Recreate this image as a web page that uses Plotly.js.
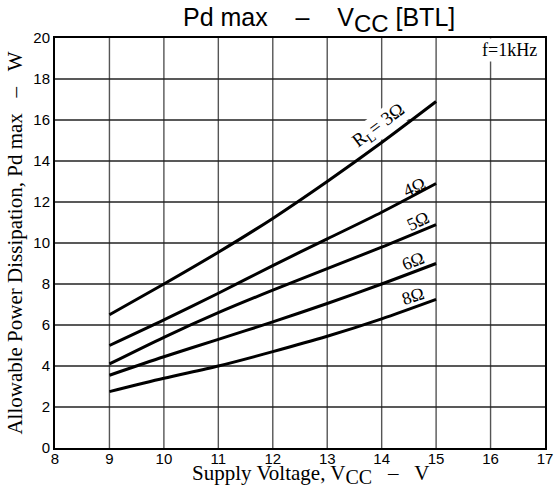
<!DOCTYPE html>
<html><head><meta charset="utf-8">
<script src="https://cdn.plot.ly/plotly-3.0.1.min.js"></script>
<style>html,body{margin:0;padding:0;background:#fff}</style>
</head><body>
<div id="chart" style="width:554px;height:488px"></div>
<script>
var vcc = [9, 10, 11, 12, 13, 14, 15];
var pd3 = [6.5, 8.0, 9.55, 11.2, 13.0, 14.9, 16.9];
var pd4 = [5.0, 6.25, 7.55, 8.9, 10.2, 11.5, 12.9];
var pd5 = [4.1, 5.4, 6.6, 7.7, 8.75, 9.8, 10.9];
var pd6 = [3.55, 4.45, 5.3, 6.15, 7.05, 8.0, 9.0];
var pd8 = [2.75, 3.4, 4.0, 4.7, 5.45, 6.3, 7.25];
var seriesNames = ["3Ω", "4Ω", "5Ω", "6Ω", "8Ω"];
var xTicks = [8, 9, 10, 11, 12, 13, 14, 15, 16, 17];
var yTicks = [0, 2, 4, 6, 8, 10, 12, 14, 16, 18, 20];

var xMin = xTicks[0], xMax = xTicks[xTicks.length - 1];
var yMin = yTicks[0], yMax = yTicks[yTicks.length - 1];

// grid lines built from the tick arrays, drawn as plain line traces
var vgx = [], vgy = [], hgx = [], hgy = [];
xTicks.slice(1, -1).forEach(function (v) { vgx.push(v, v, null); vgy.push(yMin, yMax, null); });
yTicks.slice(1, -1).forEach(function (v) { hgx.push(xMin, xMax, null); hgy.push(v, v, null); });

var traces = [
  {x: vgx, y: vgy, type: 'scatter', mode: 'lines', line: {color: '#555', width: 1.4}, hoverinfo: 'skip', connectgaps: false},
  {x: hgx, y: hgy, type: 'scatter', mode: 'lines', line: {color: '#222', width: 1.4}, hoverinfo: 'skip', connectgaps: false}
];
[pd3, pd4, pd5, pd6, pd8].forEach(function (ys, i) {
  traces.push({x: vcc, y: ys, name: seriesNames[i], type: 'scatter', mode: 'lines',
    line: {color: '#000', width: 3, shape: 'spline', smoothing: 0.8}, hoverinfo: 'skip'});
});

var serif = 'Liberation Serif, Times New Roman, serif';
var sans = 'Liberation Sans, Arial, sans-serif';
var S = '\u00a0\u00a0\u00a0\u00a0';
var S3 = '\u00a0\u00a0\u00a0';

function lab(x, y, t, ang) {
  return {x: x, y: y, xref: 'x', yref: 'y', text: t, showarrow: false, textangle: ang,
    font: {family: serif, size: 18, color: '#000'}};
}
var annotations = [
  {x: 13.95, y: 15.7, xref: 'x', yref: 'y', text: 'R<sub>L</sub>= 3Ω', showarrow: false, textangle: -37,
   font: {family: serif, size: 19, color: '#000'}, bgcolor: '#fff', borderpad: 0},
  lab(14.6, 12.75, '4Ω', -25),
  lab(14.67, 11.05, '5Ω', -25),
  lab(14.58, 9.1, '6Ω', -22),
  lab(14.58, 7.4, '8Ω', -18),
  {x: 16.35, y: 19.4, xref: 'x', yref: 'y', text: 'f=1kHz', showarrow: false,
   font: {family: serif, size: 18, color: '#000'}, bgcolor: '#fff', borderpad: 1},
  {x: 0.522, y: 0, xref: 'paper', yref: 'paper', xanchor: 'center', yanchor: 'top', yshift: -11,
   text: 'Supply Voltage, V<sub><span style="font-size:20px">CC</span></sub>' + S3 + '–' + S3 + 'V',
   showarrow: false, font: {family: serif, size: 21, color: '#000'}}
];

var layout = {
  width: 554, height: 488,
  margin: {l: 55, r: 9, t: 38, b: 40},
  paper_bgcolor: '#fff', plot_bgcolor: '#fff',
  showlegend: false,
  title: {text: 'Pd max' + S + '–' + S + 'V<sub><span style="font-size:24px">CC</span></sub> [BTL]',
    font: {family: sans, size: 25, color: '#000'},
    xref: 'container', x: 0.576, xanchor: 'center', yref: 'container', y: 0.946, yanchor: 'bottom'},
  xaxis: {range: [xMin, xMax], tickmode: 'array', tickvals: xTicks, ticktext: xTicks.map(String),
    showgrid: false, zeroline: false, ticklabelstandoff: -4,
    showline: true, linecolor: '#000', linewidth: 2, mirror: true,
    tickfont: {family: sans, size: 15, color: '#000'}},
  yaxis: {range: [yMin, yMax], tickmode: 'array', tickvals: yTicks, ticktext: yTicks.map(String),
    showgrid: false, zeroline: false,
    showline: true, linecolor: '#000', linewidth: 2, mirror: true,
    tickfont: {family: sans, size: 15, color: '#000'},
    title: {text: 'Allowable Power Dissipation, Pd max' + S3 + '–' + S3 + 'W', font: {family: serif, size: 21, color: '#000'}, standoff: 5}},
  annotations: annotations
};
Plotly.newPlot('chart', traces, layout, {displayModeBar: false});
</script>
</body></html>
